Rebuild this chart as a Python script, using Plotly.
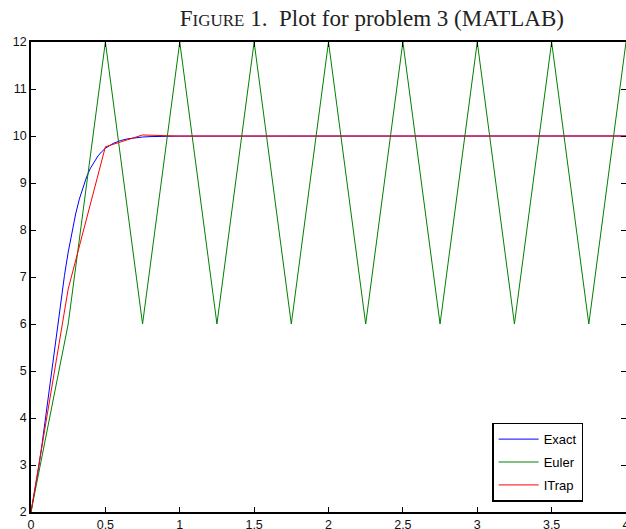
import plotly.graph_objects as go

# Exact solution (sampled curve)
exact_t = [0, 0.025, 0.05, 0.075, 0.1, 0.125, 0.15, 0.175, 0.2, 0.225, 0.25,
           0.275, 0.3, 0.325, 0.35, 0.375, 0.4, 0.425, 0.45, 0.475, 0.5,
           0.55, 0.6, 0.65, 0.7, 0.75, 0.8, 0.9, 1.0, 4.0]
exact_y = [2.0, 2.430, 2.919, 3.461, 4.046, 4.660, 5.284, 5.899, 6.488, 7.034, 7.528,
           7.964, 8.340, 8.657, 8.922, 9.140, 9.317, 9.460, 9.574, 9.666, 9.738,
           9.839, 9.902, 9.940, 9.964, 9.978, 9.987, 9.995, 9.998, 10.0]

step_t = [0, 0.25, 0.5, 0.75, 1.0, 1.25, 1.5, 1.75, 2.0, 2.25, 2.5, 2.75,
          3.0, 3.25, 3.5, 3.75, 4.0]
euler_y = [2, 6, 12, 6, 12, 6, 12, 6, 12, 6, 12, 6, 12, 6, 12, 6, 12]
itrap_y = [2, 6.745, 9.77, 10.022, 9.998, 10.0, 10.0, 10.0, 10.0, 10.0, 10.0,
           10.0, 10.0, 10.0, 10.0, 10.0, 10.0]

x_ticks = [0, 0.5, 1, 1.5, 2, 2.5, 3, 3.5, 4]
x_tick_labels = ["0", "0.5", "1", "1.5", "2", "2.5", "3", "3.5", "4"]
y_ticks = [2, 3, 4, 5, 6, 7, 8, 9, 10, 11, 12]

fig = go.Figure()
fig.add_trace(go.Scatter(x=exact_t, y=exact_y, mode="lines", name="Exact",
                         legendgroup="a", line=dict(color="#0000ff", width=1)))
fig.add_trace(go.Scatter(x=step_t, y=euler_y, mode="lines", name="Euler",
                         legendgroup="b", line=dict(color="#008000", width=1)))
fig.add_trace(go.Scatter(x=step_t, y=itrap_y, mode="lines", name="ITrap",
                         legendgroup="c", line=dict(color="#ff0000", width=1)))

axis_common = dict(showgrid=False, zeroline=False, showline=True, linecolor="black",
                   linewidth=1.6, ticks="inside", ticklen=5, tickcolor="black",
                   tickwidth=1, mirror="ticks", automargin=False,
                   tickfont=dict(family="Liberation Sans, Arial", size=12.5, color="#111"))

fig.update_layout(
    width=626, height=529,
    margin=dict(l=31, r=0, t=42, b=17, autoexpand=False),
    paper_bgcolor="white", plot_bgcolor="white",
    title=dict(text="F<span style='font-size:17px'>IGURE</span> 1.  Plot for problem 3 (MATLAB)",
               x=0.594, xanchor="center", xref="container", y=0.967, yanchor="middle",
               yref="container",
               font=dict(family="Liberation Serif, DejaVu Serif, serif", size=23, color="#222")),
    xaxis=dict(range=[0, 4], tickvals=x_ticks, ticktext=x_tick_labels,
               ticklabeloverflow="allow", **axis_common),
    yaxis=dict(range=[2, 12], tickvals=y_ticks, ticklabeloverflow="allow", **axis_common),
    legend=dict(x=0.775, y=0.022, xanchor="left", yanchor="bottom",
                bgcolor="white", bordercolor="black", borderwidth=1.5,
                font=dict(family="Liberation Sans, Arial", size=13, color="black"),
                tracegroupgap=3, itemwidth=40),
    showlegend=True,
)

fig.write_html("out.html", config={"displayModeBar": False},
               post_script="document.body.style.margin='0';document.body.style.overflow='hidden';")
